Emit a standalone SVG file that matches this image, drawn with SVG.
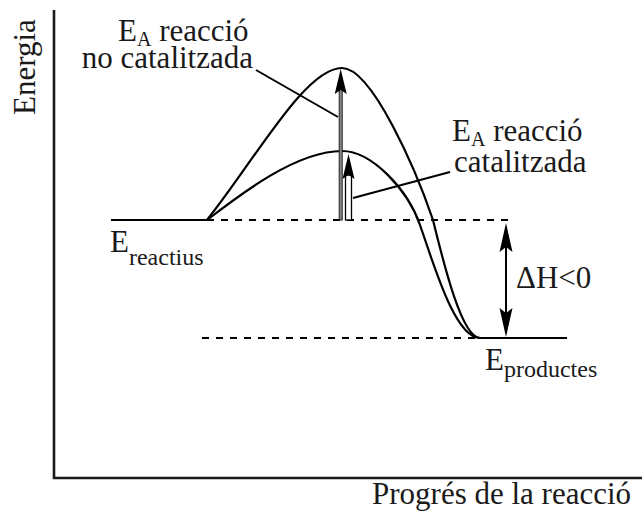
<svg xmlns="http://www.w3.org/2000/svg" width="642" height="519" viewBox="0 0 642 519">
<style>
.t{font-family:'Liberation Serif','Tinos','DejaVu Serif','Noto Serif',serif;font-size:31px;fill:#1a1a1a}
.sub{font-size:20px}
.sub2{font-size:24px}
.ax{stroke:#1a1a1a;stroke-width:2.6;fill:none}
.cv{stroke:#000;stroke-width:2.2;fill:none}
.ln{stroke:#000;stroke-width:2.2;fill:none}
.dash{stroke:#000;stroke-width:2;fill:none;stroke-dasharray:7 7}
.lead{stroke:#000;stroke-width:2;fill:none}
.head{fill:#000}
</style>
<rect width="642" height="519" fill="#fff"/>
<g id="axes">
<polyline class="ax" points="54,10 54,478 642,478"/>
<text class="t" font-family="Liberation Serif, serif" transform="translate(35,115) rotate(-90)">Energia</text>
<text class="t" font-family="Liberation Serif, serif" x="372" y="504">Progrés de la reacció</text>
</g>
<g id="levels">
<line class="ln" x1="111" y1="220" x2="207" y2="220"/>
<line class="dash" x1="207" y1="220" x2="514" y2="220"/>
<line class="dash" x1="202" y1="338" x2="480" y2="338"/>
<line class="ln" x1="480" y1="338" x2="567" y2="338"/>
</g>
<g id="curve-uncatalyzed">
<path class="cv" d="M207,220 C255,160 305,68 342,68 C372,68 416,170 433,220 C444,265 462,338 480,338"/>
</g>
<g id="curve-catalyzed">
<path class="cv" d="M207,220 C242,193 297,151 342,151 C372,151 408,190 420,225 C434,265 455,338 480,338"/>
</g>
<g id="label-reactius">
<text class="t" font-family="Liberation Serif, serif" x="110" y="252">E<tspan class="sub2" dy="13">reactius</tspan></text>
</g>
<g id="label-productes">
<text class="t" font-family="Liberation Serif, serif" x="485" y="370">E<tspan class="sub2" dy="7">productes</tspan></text>
</g>
<g id="label-ea-uncat">
<text class="t" font-family="Liberation Serif, serif" x="118" y="41">E<tspan class="sub" dy="5">A</tspan><tspan dy="-5"> reacció</tspan></text>
<text class="t" font-family="Liberation Serif, serif" x="253" y="68" text-anchor="end">no catalitzada</text>
</g>
<g id="label-ea-cat">
<text class="t" font-family="Liberation Serif, serif" x="452" y="141">E<tspan class="sub" dy="5">A</tspan><tspan dy="-5"> reacció</tspan></text>
<text class="t" font-family="Liberation Serif, serif" x="454" y="172">catalitzada</text>
</g>
<g id="label-dh">
<text class="t" font-family="Liberation Serif, serif" x="516" y="288">ΔH&lt;0</text>
</g>
<g id="connectors">
<rect x="339.2" y="88" width="3" height="132" fill="#888" stroke="#222" stroke-width="1"/>
<polygon class="head" points="340.7,69 346.7,94 340.7,90 334.7,94"/>
<rect x="345.5" y="175" width="6" height="45" fill="#fff" stroke="#000" stroke-width="1.3"/>
<polygon class="head" points="348.5,154 354.5,179 348.5,175 342.5,179"/>
<line class="lead" x1="256" y1="70" x2="338" y2="117"/>
<line class="lead" x1="450" y1="172" x2="353" y2="198"/>
<line class="lead" x1="506" y1="240" x2="506" y2="320"/>
<polygon class="head" points="506,223 512.5,252 506,247 499.5,252"/>
<polygon class="head" points="506,337 512.5,308 506,313 499.5,308"/>
</g>
</svg>
